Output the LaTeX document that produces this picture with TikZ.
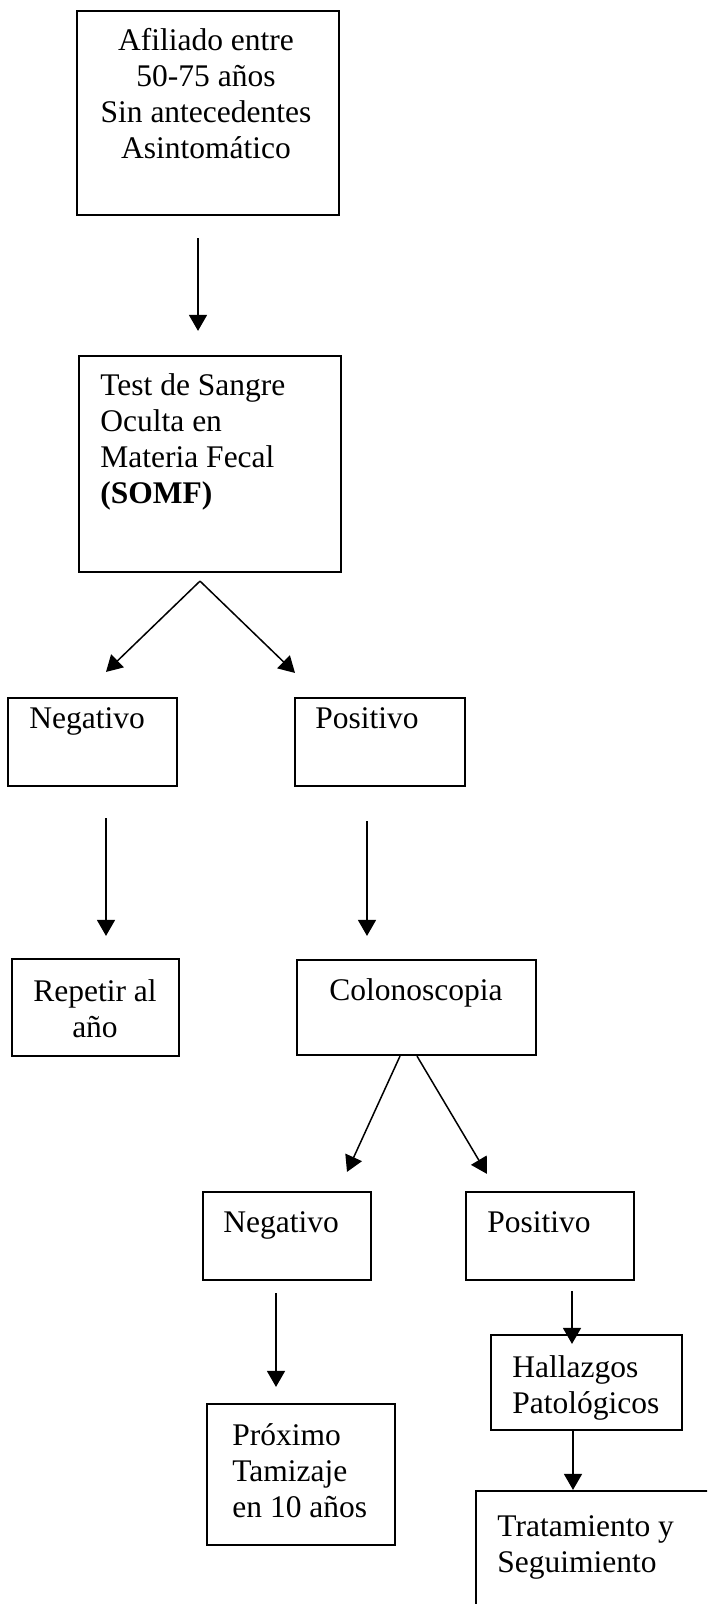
\documentclass[tikz,border=0pt]{standalone}
\usepackage{fontspec}
\setmainfont{Liberation Serif}
\usetikzlibrary{arrows.meta}

\tikzset{
  box/.style={draw, line width=1.1pt, inner sep=0pt},
  txt/.style={inner sep=0pt, font=\fontsize{15.75}{18}\selectfont},
  arr/.style={line width=0.75pt, -{Triangle[length=8pt, width=9pt]}}
}

\begin{document}
\begin{tikzpicture}[x=0.5pt, y=-0.5pt]
    \clip (0,0) rectangle (707,1604);

    % boxes
    \node[box, minimum width=131pt, minimum height=102pt] (afil) at (208,113) {};
    \node[box, minimum width=131pt, minimum height=108pt] (somf) at (210,464) {};
    \node[box, minimum width=84.5pt, minimum height=44pt] (neg1) at (92.5,742) {};
    \node[box, minimum width=85pt, minimum height=44pt] (pos1) at (380,742) {};
    \node[box, minimum width=83.5pt, minimum height=48.5pt] (rep) at (95.5,1007.5) {};
    \node[box, minimum width=119.5pt, minimum height=47.5pt] (colo) at (416.5,1007.5) {};
    \node[box, minimum width=84pt, minimum height=44pt] (neg2) at (287,1236) {};
    \node[box, minimum width=84pt, minimum height=44pt] (pos2) at (550,1236) {};
    \node[box, minimum width=94pt, minimum height=70.5pt] (prox) at (301,1474.5) {};
    \node[box, minimum width=95.5pt, minimum height=47.5pt] (hall) at (586.5,1382.5) {};
    \node[box, minimum width=162pt, minimum height=104.5pt] (trat) at (638,1595.5) {};

    % texts (base = last line)
    \node[txt, anchor=base, align=center] (afilt) at (206,159) {Afiliado entre\\50-75 años\\Sin antecedentes\\Asintomático};
    \node[txt, anchor=base west, align=left] (somft) at (100,503) {Test de Sangre\\Oculta en\\Materia Fecal\\\textbf{(SOMF)}};
    \node[txt, anchor=base west] (neg1t) at (29,728) {Negativo};
    \node[txt, anchor=base west] (pos1t) at (315,728) {Positivo};
    \node[txt, anchor=base, align=center] (rept) at (95,1037) {Repetir al\\año};
    \node[txt, anchor=base] (colot) at (416,1000) {Colonoscopia};
    \node[txt, anchor=base west] (neg2t) at (223,1232) {Negativo};
    \node[txt, anchor=base west] (pos2t) at (487,1232) {Positivo};
    \node[txt, anchor=base west, align=left] (proxt) at (232,1517) {Próximo\\Tamizaje\\en 10 años};
    \node[txt, anchor=base west, align=left] (hallt) at (512,1413) {Hallazgos\\Patológicos};
    \node[txt, anchor=base west, align=left] (tratt) at (497,1572) {Tratamiento y\\Seguimiento};

    % arrows
    \draw[arr] ([shift={(-10,22)}]afil.south) -- ([shift={(-12,-24)}]somf.north);
    \draw[arr] ([shift={(-10,8)}]somf.south) -- ([shift={(13.5,-25)}]neg1.north);
    \draw[arr] ([shift={(-10,8)}]somf.south) -- ([shift={(-85,-24)}]pos1.north);
    \draw[arr] ([shift={(13.5,31)}]neg1.south) -- ([shift={(10.5,-22)}]rep.north);
    \draw[arr] ([shift={(-13,34)}]pos1.south) -- ([shift={(-49.5,-23)}]colo.north);
    \draw[arr] ([shift={(-16.5,0)}]colo.south) -- ([shift={(60,-19)}]neg2.north);
    \draw[arr] ([shift={(0.5,0)}]colo.south) -- ([shift={(-63,-17)}]pos2.north);
    \draw[arr] ([shift={(-11,12)}]neg2.south) -- ([shift={(-25,-16)}]prox.north);
    \draw[arr] ([shift={(22,10)}]pos2.south) -- ([shift={(-14.5,10)}]hall.north);
    \draw[arr] ([shift={(-13.5,0)}]hall.south) -- ([shift={(-65,0)}]trat.north);
\end{tikzpicture}
\end{document}
